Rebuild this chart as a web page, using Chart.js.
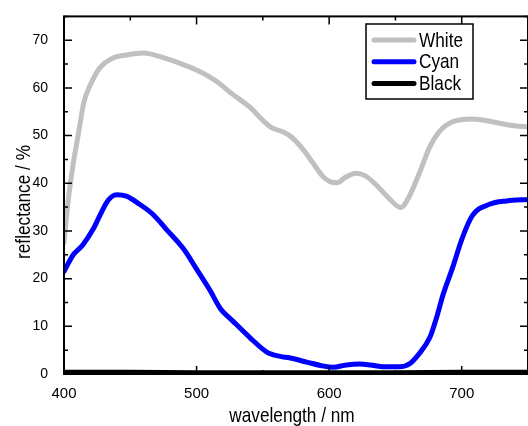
<!DOCTYPE html>
<html lang="en">
<head>
  <meta charset="UTF-8" />
  <title>Reflectance spectra</title>
  <style>
    body {
      margin: 0;
      background: #fff;
      overflow: hidden;
    }
    canvas {
      display: block;
    }
  </style>
</head>
<body>
  <canvas id="specChart" width="528" height="426"></canvas>

  <script src="https://cdn.jsdelivr.net/npm/chart.js"></script>
  <script>
    // data
    const whiteWl = [400, 403, 407, 411, 415, 420, 427, 437, 447, 460, 472, 487, 502, 515, 527, 540, 550, 557, 565, 572,
                     580, 588, 595, 601, 606, 612, 620, 627, 635, 645, 654, 660, 668, 676, 683, 693, 708, 723, 738, 750];
    const whiteVals = [27.5, 36, 44.2, 50.6, 57, 60.7, 64.2, 66.3, 66.9, 67.3, 66.6, 65.2, 63.5, 61.4, 58.7, 56, 53.2, 51.6, 50.8, 49.6,
                       47.2, 44.2, 41.5, 40.3, 40.1, 41.2, 42.1, 41.6, 39.8, 36.9, 34.9, 37.0, 42.1, 47.7, 50.8, 52.9, 53.5, 52.9, 52.1, 51.8];

    const cyanWl = [400, 407, 414, 422, 427, 432, 436, 440, 447, 457, 467, 477, 490, 500, 510, 518, 527, 540, 553, 563,
                    570, 583, 595, 603, 613, 623, 631, 641, 653, 661, 668, 676, 681, 686, 693, 700, 708, 721, 734, 750];
    const cyanVals = [21.5, 25, 27, 30.4, 33.2, 35.9, 37.2, 37.6, 37.3, 35.6, 33.5, 30.4, 26.3, 22.0, 17.6, 13.7, 11.2, 7.7, 4.6, 3.7,
                      3.4, 2.5, 1.7, 1.4, 1.9, 2.1, 1.9, 1.5, 1.5, 2.2, 4.3, 7.7, 11.8, 16.7, 22.2, 28.2, 33.2, 35.6, 36.3, 36.6];

    const blackWl = [400, 450, 500, 550, 600, 650, 700, 750];
    const blackVals = [0.4, 0.4, 0.3, 0.3, 0.3, 0.3, 0.4, 0.4];

    const seriesNames = ["White", "Cyan", "Black"];
    const seriesColors = ["#c0c0c0", "#0000ff", "#000000"];

    const xTicks = [400, 500, 600, 700];
    const xMinorTicks = [450, 550, 650, 750];
    const yTicks = [0, 10, 20, 30, 40, 50, 60, 70];
    const yMinorTicks = [5, 15, 25, 35, 45, 55, 65, 75];

    const xTitle = "wavelength / nm";
    const yTitle = "reflectance / %";

    function toPoints(xs, ys) {
      return xs.map((x, i) => ({ x: x, y: ys[i] }));
    }

    const sans = "'Liberation Sans', Arial, sans-serif";

    // the reference uses a tall narrow face, so squeeze the text horizontally
    function narrowText(ctx, text, x, y, rot) {
      ctx.save();
      ctx.translate(x, y);
      if (rot) ctx.rotate(rot);
      ctx.scale(0.82, 1);
      ctx.fillText(text, 0, 0);
      ctx.restore();
    }

    // frame, inward ticks, titles and legend box
    const framePlugin = {
      id: "frame",
      afterDraw(chart) {
        const ctx = chart.ctx;
        const a = chart.chartArea;
        const xs = chart.scales.x, ys = chart.scales.y;
        ctx.save();
        ctx.strokeStyle = "#000";
        ctx.lineWidth = 2;
        ctx.strokeRect(a.left, a.top, a.right - a.left, a.bottom - a.top);

        ctx.lineWidth = 1.5;
        ctx.beginPath();
        const tick = (vals, len) => {
          vals.forEach(v => {
            const px = xs.getPixelForValue(v);
            ctx.moveTo(px, a.bottom); ctx.lineTo(px, a.bottom - len);
            ctx.moveTo(px, a.top); ctx.lineTo(px, a.top + len);
          });
        };
        const ytick = (vals, len) => {
          vals.forEach(v => {
            const py = ys.getPixelForValue(v);
            ctx.moveTo(a.left, py); ctx.lineTo(a.left + len, py);
            ctx.moveTo(a.right, py); ctx.lineTo(a.right - len, py);
          });
        };
        tick(xTicks, 8);
        tick(xMinorTicks, 4);
        ytick(yTicks, 8);
        ytick(yMinorTicks, 4);
        ctx.stroke();

        // axis titles
        ctx.fillStyle = "#000";
        ctx.font = "21px " + sans;
        ctx.textAlign = "center";
        ctx.textBaseline = "middle";
        narrowText(ctx, xTitle, (a.left + a.right) / 2 - 4, 416, 0);
        narrowText(ctx, yTitle, 24, 202, -Math.PI / 2);

        // legend
        const lx = 366, ly = 24, lw = 107, lh = 75;
        ctx.fillStyle = "#fff";
        ctx.fillRect(lx, ly, lw, lh);
        ctx.lineWidth = 1.5;
        ctx.strokeRect(lx, ly, lw, lh);
        ctx.font = "21px " + sans;
        ctx.textAlign = "left";
        ctx.lineCap = "round";
        chart.data.datasets.forEach((ds, i) => {
          const y = ly + 16 + i * 21.7;
          ctx.strokeStyle = ds.borderColor;
          ctx.lineWidth = 5;
          ctx.beginPath();
          ctx.moveTo(lx + 8, y);
          ctx.lineTo(lx + 48, y);
          ctx.stroke();
          ctx.fillStyle = "#000";
          narrowText(ctx, ds.label, lx + 53, y + 1, 0);
        });
        ctx.restore();
      }
    };

    new Chart(document.getElementById("specChart").getContext("2d"), {
      type: "line",
      data: {
        datasets: [
          { label: seriesNames[0], data: toPoints(whiteWl, whiteVals), borderColor: seriesColors[0], borderWidth: 5 },
          { label: seriesNames[1], data: toPoints(cyanWl, cyanVals), borderColor: seriesColors[1], borderWidth: 5 },
          { label: seriesNames[2], data: toPoints(blackWl, blackVals), borderColor: seriesColors[2], borderWidth: 4.5 }
        ]
      },
      options: {
        responsive: false,
        animation: false,
        layout: { padding: { top: 10, left: 0, right: 0, bottom: 0 } },
        elements: {
          point: { radius: 0 },
          line: { cubicInterpolationMode: "monotone", borderJoinStyle: "round", borderCapStyle: "round", fill: false }
        },
        plugins: {
          legend: { display: false },
          tooltip: { enabled: false }
        },
        scales: {
          x: {
            type: "linear",
            min: 400,
            max: 750,
            grid: { display: false },
            border: { display: false },
            afterBuildTicks: s => { s.ticks = xTicks.map(v => ({ value: v })); },
            afterFit: s => { s.height = 52; },
            ticks: {
              color: "#000",
              padding: 3,
              maxRotation: 0,
              font: { family: sans, size: 15 }
            }
          },
          y: {
            min: 0,
            max: 75,
            grid: { display: false },
            border: { display: false },
            afterBuildTicks: s => { s.ticks = yTicks.map(v => ({ value: v })); },
            afterFit: s => { s.width = 64; },
            ticks: {
              color: "#000",
              padding: 8,
              font: { family: sans, size: 14 }
            }
          }
        }
      },
      plugins: [framePlugin]
    });
  </script>
</body>
</html>
